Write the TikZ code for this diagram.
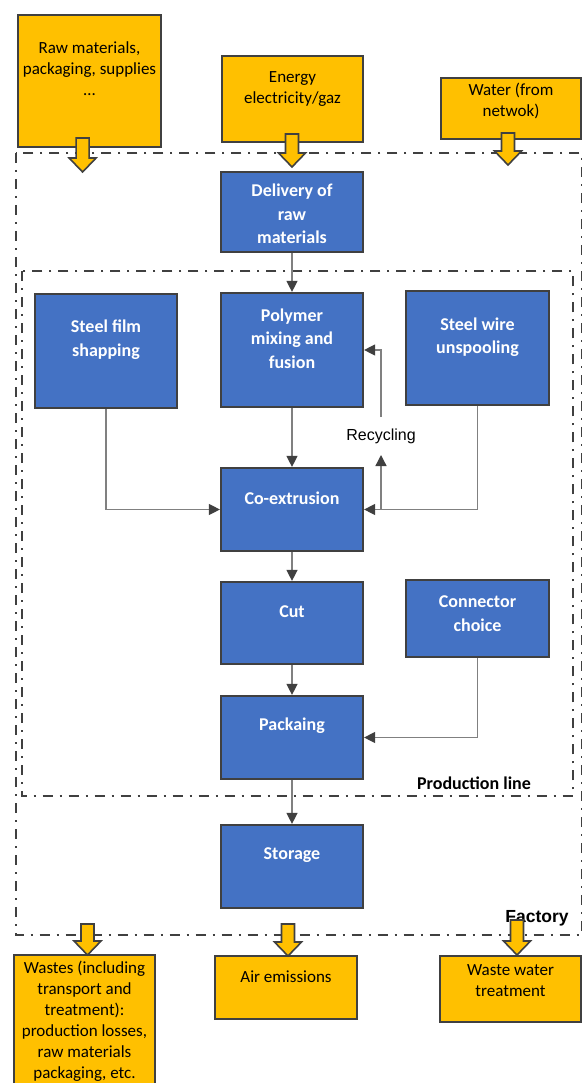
\documentclass[tikz,border=0pt]{standalone}
\usepackage{fontspec}
\setmainfont{Carlito}
\newfontfamily\robo{Liberation Sans}
\usetikzlibrary{arrows.meta}
\definecolor{bbl}{HTML}{4472C4}
\definecolor{org}{HTML}{FFC000}
\definecolor{edge}{HTML}{404040}
\definecolor{lnc}{HTML}{808080}
\newcommand\blockarr[3]{%
  \draw[barrow] (#1-6.5,#2) -- (#1+6.5,#2) -- (#1+6.5,#3-14) -- (#1+13.5,#3-14)
    -- (#1,#3) -- (#1-13.5,#3-14) -- (#1-6.5,#3-14) -- cycle;}
\begin{document}
\begin{tikzpicture}[x=1pt,y=-1pt,
  sz/.style 2 args={minimum width=#1pt,minimum height=#2pt},
  bluebox/.style={draw=edge,line width=2.2pt,fill=bbl,inner sep=0pt},
  orgbox/.style={draw=edge,line width=2.2pt,fill=org,inner sep=0pt},
  btext/.style={text=white,font=\bfseries\fontsize{18}{23.5}\selectfont,align=center,inner sep=0pt},
  otext/.style={text=black,font=\fontsize{17}{21}\selectfont,align=center,inner sep=0pt},
  barrow/.style={draw=edge,line width=1.6pt,fill=org,line join=miter},
  zone/.style={draw=edge,line width=1.8pt,dash pattern=on 10pt off 7pt on 2pt off 7pt},
  conn/.style={draw=lnc,line width=1.3pt,-{Triangle[length=11pt,width=11pt,color=edge]}},
  line/.style={draw=lnc,line width=1.3pt}]
\useasboundingbox (0,0) rectangle (583,1083);
% zones
\draw[zone] (15.6,153) rectangle (581.5,935);
\draw[zone] (21.6,271) rectangle (573,796);
% input boxes
\node[orgbox,sz={143}{132}] (raw) at (89.5,81) {};
\node[otext] (rawT) at (89.5,69) {Raw materials,\\packaging, supplies\\\dots};
\node[orgbox,sz={141}{86}] (energy) at (292.5,99) {};
\node[otext] (energyT) at (292.5,89) {Energy\\electricity/gaz};
\node[orgbox,sz={140}{61}] (water) at (511,108.5) {};
\node[otext] (waterT) at (511,101) {Water (from\\netwok)};
% process boxes
\node[bluebox,sz={142}{80}] (deliv) at (292,212) {};
\node[btext] (delivT) at (292,214) {Delivery of\\raw\\materials};
\node[bluebox,sz={142}{114}] (film) at (106,351) {};
\node[btext] (filmT) at (106,339.5) {Steel film\\shapping};
\node[bluebox,sz={142}{114}] (poly) at (292,350) {};
\node[btext] (polyT) at (292,338.5) {Polymer\\mixing and\\fusion};
\node[bluebox,sz={143}{114}] (wire) at (477.5,348) {};
\node[btext] (wireT) at (477.5,337) {Steel wire\\unspooling};
\node[bluebox,sz={142}{83}] (coext) at (292,509.5) {};
\node[btext] (coextT) at (292,498) {Co-extrusion};
\node[bluebox,sz={142}{82}] (cut) at (292,623) {};
\node[btext] (cutT) at (292,612) {Cut};
\node[bluebox,sz={143}{77}] (connc) at (477.5,618.5) {};
\node[btext] (conncT) at (477.5,613.5) {Connector\\choice};
\node[bluebox,sz={142}{83}] (pack) at (292,737.5) {};
\node[btext] (packT) at (292,726) {Packaing};
\node[bluebox,sz={142}{83}] (stor) at (292,866.5) {};
\node[btext] (storT) at (292,855) {Storage};
% output boxes
\node[orgbox,sz={141}{140}] (waste) at (84.5,1025) {};
\node[otext] (wasteT) at (84.5,1021) {Wastes (including\\transport and\\treatment):\\production losses,\\raw materials\\packaging, etc.};
\node[orgbox,sz={142}{63}] (air) at (286,987.5) {};
\node[otext] (airT) at (286,977) {Air emissions};
\node[orgbox,sz={141}{66}] (wwat) at (510.5,989) {};
\node[otext] (wwatT) at (510.5,981) {Waste water\\treatment};
% zone labels
\node[font=\bfseries\fontsize{18}{20}\selectfont,inner sep=0pt] (plab) at (474,783) {Production line};
\node[font=\robo\bfseries\fontsize{17.5}{20}\selectfont,inner sep=0pt] (flab) at (537,918) {Factory};
% connectors
\draw[conn] (deliv.south) -- (poly.north);
\draw[conn] (poly.south) -- (coext.north);
\draw[conn] (film.south) |- (coext.west);
\draw[conn] (wire.south) |- (coext.east);
\draw[conn] (coext.south) -- (cut.north);
\draw[conn] (cut.south) -- (pack.north);
\draw[conn] (connc.south) |- (pack.east);
\draw[conn] (pack.south) -- (stor.north);
% recycling
\node[font=\robo\fontsize{16}{18}\selectfont,inner sep=0pt] (recyc) at (381,436) {Recycling};
\coordinate (rb) at (381,509.5);
\coordinate (rt) at (381,455);
\coordinate (rs) at (381,417);
\draw[conn] (rb) -- (rt);
\draw[conn] (rs) |- (poly.east);
% block arrows
\blockarr{82.6}{138}{172}
\blockarr{292}{134}{167}
\blockarr{508}{133}{165}
\blockarr{87.5}{924}{955}
\blockarr{288}{924}{956}
\blockarr{517}{920}{955}
\end{tikzpicture}
\end{document}
